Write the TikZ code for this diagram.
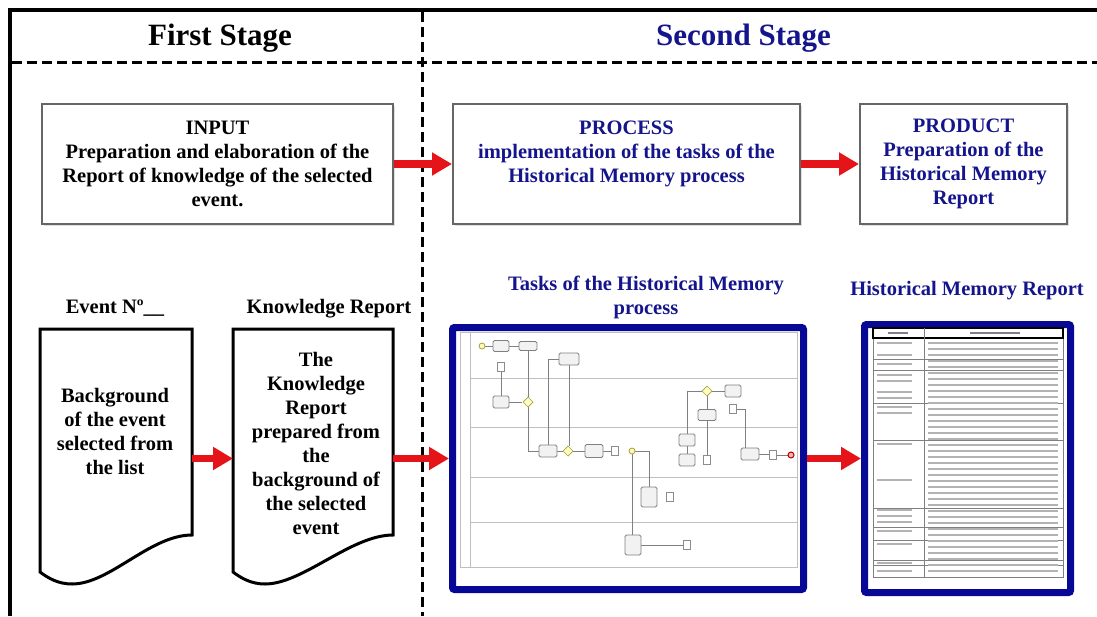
\documentclass[tikz,border=0pt]{standalone}
\usepackage{fontspec}
\setmainfont{Liberation Serif}
\usepackage{xcolor}
\usepackage{tikz}
\usetikzlibrary{positioning, arrows.meta, calc, shadows}
\definecolor{stagenavy}{RGB}{20,20,140}
\definecolor{framenavy}{RGB}{8,8,150}
\definecolor{arrowred}{RGB}{228,20,24}
\tikzset{
  stagetitle/.style={
    anchor=base,
    font=\fontsize{31}{36}\selectfont\bfseries
  },
  ipobox/.style={
    rectangle,
    draw=black!60,
    fill=white,
    line width=2pt,
    minimum height=120pt,
    align=center,
    font=\fontsize{20.5}{24}\selectfont\bfseries,
    inner sep=0pt,
    drop shadow={shadow xshift=1.5pt, shadow yshift=-1.5pt, opacity=0.25}
  },
  redarrow/.style={
    draw=arrowred,
    line width=7.5pt,
    -{Triangle[length=20pt, width=22pt]}
  },
  dashline/.style={
    line width=3pt,
    dash pattern=on 10pt off 5pt
  },
  docbox/.style={
    rectangle,
    draw=none,
    minimum height=243pt,
    inner sep=0pt,
    outer sep=0pt
  },
  docline/.style={
    line width=3pt,
    line join=miter
  },
  doctext/.style={
    align=center,
    font=\fontsize{20.5}{24}\selectfont\bfseries
  },
  doclabel/.style={
    anchor=base,
    font=\fontsize{20.5}{24}\selectfont\bfseries
  },
  shotframe/.style={
    rectangle,
    draw=framenavy,
    line width=7pt,
    rounded corners=2pt,
    inner sep=0pt
  },
  bpmnlane/.style={draw=black!25, line width=0.6pt},
  bpmntask/.style={draw=black!50, fill=black!5, line width=0.8pt, rounded corners=1.5pt},
  bpmnflow/.style={draw=black!50, line width=0.6pt},
  bpmngate/.style={draw=yellow!60!black, fill=yellow!25, line width=0.7pt},
  bpmndata/.style={draw=black!45, fill=white, line width=0.6pt},
  tabrule/.style={draw=black!50, line width=0.6pt},
  tabtext/.style={draw=black!30, line width=1.6pt}
}
% outline of a document symbol round a docbox node
\newcommand{\docoutline}[1]{%
  \draw[docline] (#1.south west) -- (#1.north west) -- (#1.north east)
    -- ([yshift=37pt]#1.south east)
    .. controls ([xshift=-42pt,yshift=37pt]#1.south east) and ([xshift=70pt,yshift=-12pt]#1.south west)
    .. ([xshift=32pt,yshift=-12pt]#1.south west)
    .. controls ([xshift=18pt,yshift=-12pt]#1.south west) and ([xshift=8pt,yshift=-6pt]#1.south west)
    .. (#1.south west) -- cycle;}

\begin{document}
\begin{tikzpicture}[x=1pt, y=-1pt]
  \useasboundingbox (0,0) rectangle (1097,616);

  % frame and stage separators
  \draw[line width=4pt] (10,616) -- (10,10) -- (1097,10);
  \draw[dashline] (12,62) -- (1097,62);
  \draw[dashline] (422,12) -- (422,616);

  \node[stagetitle] (firststage) at (220,45) {First Stage};
  \node[stagetitle, text=stagenavy] (secondstage) at (743.5,45) {Second Stage};

  % input - process - product
  \node[ipobox, minimum width=351pt] (input) at (217.5,164)
    {INPUT\\Preparation and elaboration of the\\Report of knowledge of the selected\\event.};
  \node[ipobox, minimum width=347pt, text=stagenavy, right=58pt of input] (process)
    {PROCESS\\implementation of the tasks of the\\Historical Memory process\\~};
  \node[ipobox, minimum width=207pt, text=stagenavy, right=58pt of process] (product)
    {PRODUCT\\Preparation of the\\Historical Memory\\Report};
  \draw[redarrow] (input.east) -- (process.west);
  \draw[redarrow] (process.east) -- (product.west);

  % documents of the first stage
  \node[docbox, minimum width=152pt] (evdoc) at (116,450.5) {};
  \node[docbox, minimum width=160pt] (krdoc) at (313,450.5) {};
  \docoutline{evdoc}
  \docoutline{krdoc}
  \node[doclabel] (evlabel) at (115,313) {Event Nº\_\_};
  \node[doclabel] (krlabel) at (329,313) {Knowledge Report};
  \node[doctext] (evtext) at (115,431) {Background\\of the event\\selected from\\the list};
  \node[doctext] (krtext) at (316,443)
    {The\\Knowledge\\Report\\prepared from\\the\\background of\\the selected\\event};

  % screenshots of the second stage
  \node[doctext, text=stagenavy] (tasktitle) at (646,297) {Tasks of the Historical Memory\\process};
  \node[doclabel, text=stagenavy] (reporttitle) at (967,295) {Historical Memory Report};
  \node[shotframe, minimum width=351pt, minimum height=262pt] (taskshot) at (628,458.5) {};
  \node[shotframe, minimum width=206pt, minimum height=268pt] (reportshot) at (967.5,458.5) {};

  \draw[redarrow] ([yshift=-8pt]evdoc.east) -- ([yshift=-8pt]krdoc.west);
  \draw[redarrow] ([yshift=-8pt]krdoc.east) -- (taskshot.west);
  \draw[redarrow] (taskshot.east) -- (reportshot.west);

  % process diagram inside the task frame
  \draw[bpmnlane] (460,332) rectangle (797,567);
  \draw[bpmnlane] (470,332) -- (470,567);
  \foreach \ly in {378,427,477,522}
    \draw[bpmnlane] (470,\ly) -- (797,\ly);
  \draw[bpmnflow] (485,346) -- (493,346);
  \draw[bpmnflow] (509,346) -- (519,346);
  \draw[bpmnflow] (528,351) -- (528,397);
  \draw[bpmnflow] (501,372) -- (501,396);
  \draw[bpmnflow] (509,402) -- (522,402);
  \draw[bpmnflow] (528,407) |- (539,451);
  \draw[bpmnflow] (548,445) |- (559,359);
  \draw[bpmnflow] (569,365) -- (569,446);
  \draw[bpmnflow] (557,451) -- (563,451);
  \draw[bpmnflow] (573,451) -- (585,451);
  \draw[bpmnflow] (603,451) -- (611,451);
  \draw[bpmnflow] (635,451) -| (649,487);
  \draw[bpmnflow] (632,454) -- (632,535);
  \draw[bpmnflow] (641,545) -- (683,545);
  \draw[bpmnflow] (687,434) |- (702,391);
  \draw[bpmnflow] (712,391) -- (725,391);
  \draw[bpmnflow] (707,396) -- (707,410);
  \draw[bpmnflow] (707,420) -- (707,455);
  \draw[bpmnflow] (687,446) -- (687,454);
  \draw[bpmnflow] (737,409) -- (745,409) -- (745,448);
  \draw[bpmnflow] (759,454) -- (769,454);
  \draw[bpmnflow] (777,455) -- (788,455);
  \foreach \tx/\ty/\tw/\th in {501/346/16/11, 528/346/18/9, 569/359/20/12, 501/402/16/12,
      548/451/18/12, 594/451/18/13, 649/497/16/20, 633/545/16/20, 687/440/16/12,
      687/460/16/12, 733/391/16/12, 707/415/18/11, 750/454/18/12}
    \draw[bpmntask] (\tx-\tw/2,\ty-\th/2) rectangle ++(\tw,\th);
  \foreach \gx/\gy in {528/402, 568/451, 707/391}
    \draw[bpmngate] (\gx-5,\gy) -- (\gx,\gy-5) -- (\gx+5,\gy) -- (\gx,\gy+5) -- cycle;
  \foreach \dx/\dy in {501/367, 615/451, 670/497, 687/545, 707/460, 733/409, 773/455}
    \draw[bpmndata] (\dx-3.5,\dy-4.5) rectangle ++(7,9);
  \draw[draw=yellow!60!black, fill=yellow!30, line width=0.8pt] (482,346) circle (3);
  \draw[draw=yellow!60!black, fill=yellow!30, line width=0.8pt] (632,451) circle (3);
  \draw[draw=red!70!black, fill=red!30, line width=1pt] (791,455) circle (3);

  % table inside the report frame
  \draw[tabrule] (873,328) rectangle (1063,577);
  \draw[line width=1.2pt] (873,328) rectangle (1063,338);
  \draw[tabrule] (924,328) -- (924,577);
  \foreach \ry in {359,370,403,440,508,527,540,560,565}
    \draw[tabrule] (873,\ry) -- (1063,\ry);
  \draw[tabtext, draw=black!50] (888,333) -- (908,333);
  \draw[tabtext, draw=black!50] (970,333) -- (1020,333);
  \foreach \ty in {343,349,...,574}
    \draw[tabtext] (928,\ty) -- (1058,\ty);
  \foreach \ty in {343,355,364,375,381,392,398,407,413,444,480,510,516,522,531,544,563,571}
    \draw[tabtext] (877,\ty) -- (912,\ty);
\end{tikzpicture}
\end{document}
